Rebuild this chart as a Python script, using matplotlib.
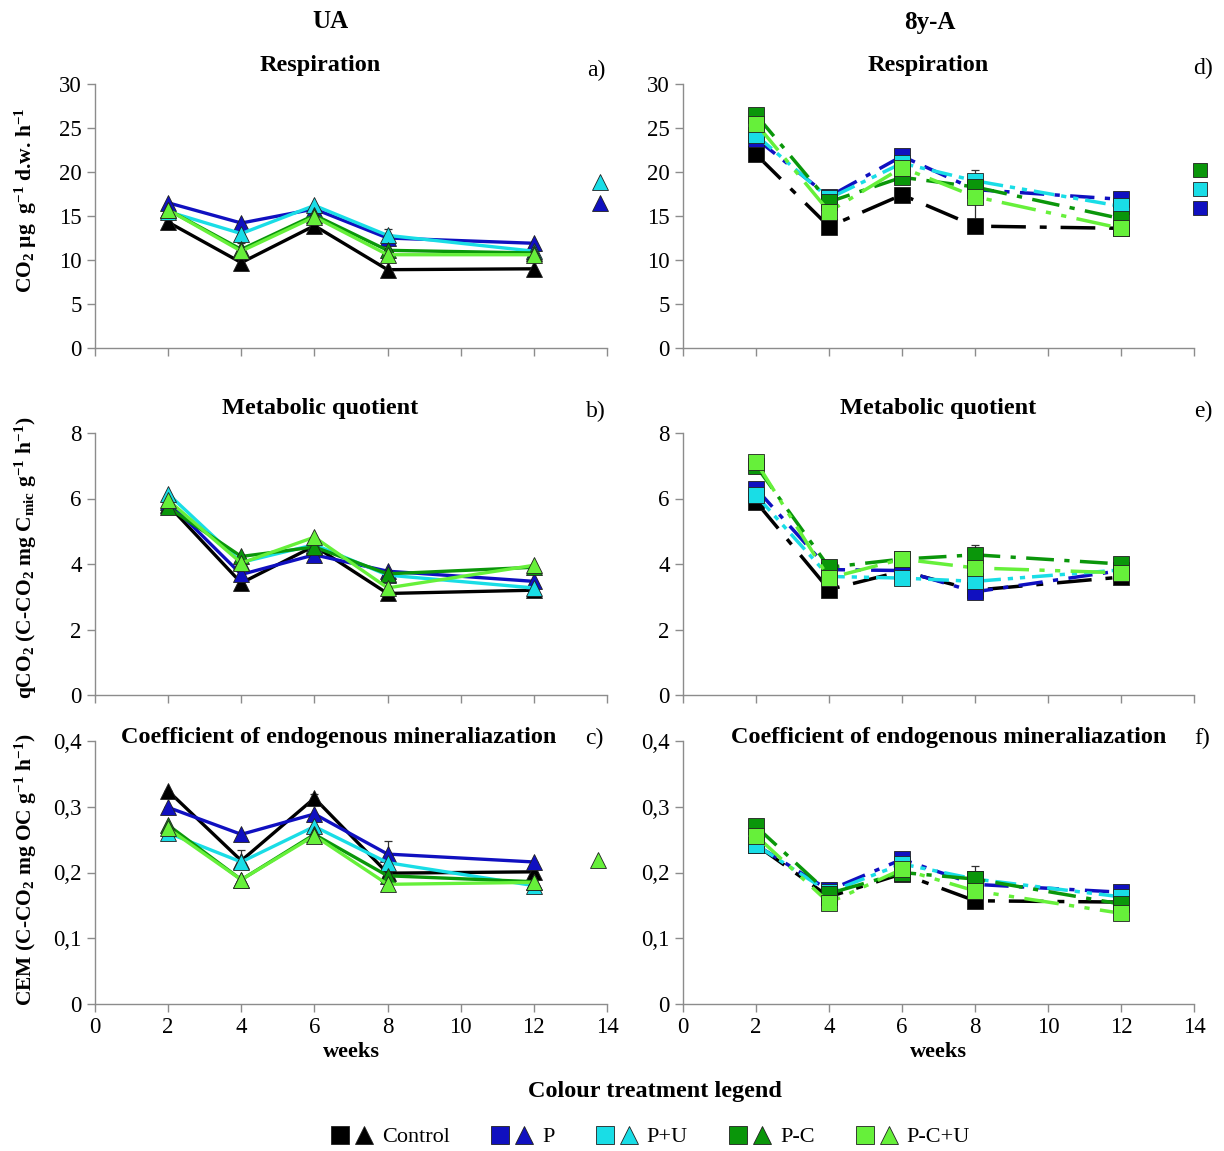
import numpy as np
import matplotlib
matplotlib.use("Agg")
import matplotlib.pyplot as plt
from matplotlib.ticker import FuncFormatter, MultipleLocator
from matplotlib.lines import Line2D
from matplotlib.legend_handler import HandlerTuple

plt.rcParams['font.family'] = ['Liberation Serif', 'DejaVu Serif']
plt.rcParams['mathtext.fontset'] = 'custom'
plt.rcParams['mathtext.rm'] = 'Liberation Serif:bold'
plt.rcParams['mathtext.default'] = 'rm'

# --- Sampling times ---
weeks = [2, 4, 6, 8, 12]
treatments = ['Control', 'P', 'P+U', 'P-C', 'P-C+U']
colours = ['#000000', '#1010c0', '#19dde6', '#0a960a', '#66f03a']

# --- UA soil (triangles) ---
resp_ua = {
    'Control': [14.3, 9.7, 13.9, 8.9, 9.0],
    'P': [16.5, 14.2, 15.8, 12.5, 11.9],
    'P+U': [15.5, 13.0, 16.2, 12.8, 11.0],
    'P-C': [15.7, 11.2, 15.1, 11.1, 10.8],
    'P-C+U': [15.7, 11.0, 14.9, 10.6, 10.6],
}
qco2_ua = {
    'Control': [5.8, 3.42, 4.55, 3.1, 3.2],
    'P': [5.9, 3.68, 4.28, 3.78, 3.47],
    'P+U': [6.14, 4.05, 4.59, 3.66, 3.27],
    'P-C': [5.73, 4.23, 4.52, 3.7, 3.9],
    'P-C+U': [5.95, 4.03, 4.82, 3.27, 3.96],
}
cem_ua = {
    'Control': [0.324, 0.218, 0.313, 0.199, 0.201],
    'P': [0.299, 0.258, 0.289, 0.228, 0.216],
    'P+U': [0.26, 0.216, 0.27, 0.215, 0.18],
    'P-C': [0.272, 0.189, 0.258, 0.195, 0.186],
    'P-C+U': [0.267, 0.189, 0.256, 0.182, 0.185],
}

# --- 8y-A soil (squares) ---
resp_8y = {
    'Control': [22.0, 13.8, 17.4, 13.85, 13.6],
    'P': [23.8, 17.2, 21.8, 18.0, 16.9],
    'P+U': [24.2, 17.0, 21.0, 19.0, 16.1],
    'P-C': [26.5, 16.6, 19.4, 18.3, 14.7],
    'P-C+U': [25.5, 15.5, 20.5, 17.2, 13.6],
}
qco2_8y = {
    'Control': [5.9, 3.22, 3.78, 3.2, 3.6],
    'P': [6.3, 3.83, 3.8, 3.15, 3.8],
    'P+U': [6.1, 3.62, 3.57, 3.47, 3.82],
    'P-C': [7.0, 3.9, 4.15, 4.28, 4.0],
    'P-C+U': [7.12, 3.57, 4.15, 3.88, 3.73],
}
cem_8y = {
    'Control': [0.242, 0.163, 0.198, 0.157, 0.155],
    'P': [0.242, 0.173, 0.22, 0.182, 0.17],
    'P+U': [0.242, 0.17, 0.213, 0.19, 0.163],
    'P-C': [0.27, 0.168, 0.2, 0.19, 0.152],
    'P-C+U': [0.256, 0.154, 0.205, 0.172, 0.138],
}

# standard errors that show above the markers
err_resp_ua = {'P+U': [0, 0, 0, 0.7, 0], 'P-C+U': [0, 0.9, 0, 0, 0]}
err_resp_8y = {'P+U': [0.9, 0.6, 0, 0, 0], 'P-C+U': [0, 0, 0, 3.0, 0]}
err_qco2_ua = {}
err_qco2_8y = {'P-C': [0, 0, 0, 0.3, 0]}
err_cem_ua = {'P': [0, 0, 0, 0.02, 0], 'P+U': [0, 0.018, 0, 0, 0], 'Control': [0, 0, 0.006, 0, 0]}
err_cem_8y = {'P+U': [0, 0, 0, 0.02, 0]}

dashes_8y = {
    'Control': (0, (10, 4, 2, 4)),
    'P': (0, (7, 3, 1.5, 3)),
    'P+U': (0, (6, 2, 1.5, 2, 1.5, 2)),
    'P-C': (0, (8, 3, 1.5, 3)),
    'P-C+U': (0, (10, 3, 1.5, 3, 1.5, 3)),
}

W, H = 1224, 1151
fig = plt.figure(figsize=(W / 100, H / 100), dpi=100)


def px_axes(x0, x1, ytop, ybot):
    return fig.add_axes([x0 / W, 1 - ybot / H, (x1 - x0) / W, (ybot - ytop) / H])


def ptext(x, y, s, **kw):
    fig.text(x / W, 1 - y / H, s, ha='center', va='center', **kw)


comma = FuncFormatter(lambda v, p: f'{v:g}'.replace('.', ','))


def draw_panel(ax, data, errs, ymax, ystep, ua, bottom):
    for name, col in zip(treatments, colours):
        y = data[name]
        if ua:
            ax.plot(weeks, y, '-', color=col, lw=2.4, marker='^', ms=11.5,
                    mec='#202020', mew=0.6, zorder=3)
        else:
            ax.plot(weeks, y, color=col, lw=2.5, ls=dashes_8y[name], marker='s',
                    ms=12, mec='#202020', mew=0.6, zorder=3)
        if name in errs:
            e = np.array(errs[name])
            ax.errorbar(weeks, y, yerr=[np.zeros_like(e), e] if ua else e,
                        fmt='none', ecolor='#303030', elinewidth=0.9,
                        capsize=3, capthick=0.9, zorder=2)
    ax.set_xlim(0, 14)
    ax.set_ylim(0, ymax)
    ax.xaxis.set_major_locator(MultipleLocator(2))
    ax.yaxis.set_major_locator(MultipleLocator(ystep))
    ax.yaxis.set_major_formatter(comma)
    for s in ('top', 'right'):
        ax.spines[s].set_visible(False)
    for s in ('left', 'bottom'):
        ax.spines[s].set_color('#8c8c8c')
        ax.spines[s].set_linewidth(1.0)
    ax.tick_params(colors='#8c8c8c', labelcolor='black', labelsize=16.5,
                   length=6, width=1.0, direction='out')
    if not bottom:
        ax.tick_params(axis='x', labelbottom=False)
    else:
        ax.set_xlabel('weeks', fontsize=16, fontweight='bold', labelpad=3)


cols = [(95, 607), (683, 1194)]
rows = [(84, 348), (433, 695), (741, 1004)]
panels = [
    [(resp_ua, err_resp_ua, 30, 5), (resp_8y, err_resp_8y, 30, 5)],
    [(qco2_ua, err_qco2_ua, 8, 2), (qco2_8y, err_qco2_8y, 8, 2)],
    [(cem_ua, err_cem_ua, 0.4, 0.1), (cem_8y, err_cem_8y, 0.4, 0.1)],
]
axes = []
for r, (yt, yb) in enumerate(rows):
    row_axes = []
    for c, (x0, x1) in enumerate(cols):
        ax = px_axes(x0, x1, yt, yb)
        data, errs, ymax, ystep = panels[r][c]
        draw_panel(ax, data, errs, ymax, ystep, ua=(c == 0), bottom=(r == 2))
        row_axes.append(ax)
    axes.append(row_axes)

# column headings, panel titles and letters
ptext(330, 22, 'UA', fontsize=18, fontweight='bold')
ptext(930, 22, '8y-A', fontsize=18, fontweight='bold')
titles = ['Respiration', 'Metabolic quotient', 'Coefficient of endogenous mineraliazation']
title_pos = [[(320, 66), (928, 66)], [(320, 409), (938, 409)], [(339, 737), (949, 737)]]
letters = [['a)', 'd)'], ['b)', 'e)'], ['c)', 'f)']]
letter_pos = [[(596, 70), (1203, 68)], [(596, 411), (1203, 411)], [(594, 738), (1202, 738)]]
for r in range(3):
    for c in range(2):
        ptext(*title_pos[r][c], titles[r], fontsize=17.5, fontweight='bold')
        ptext(*letter_pos[r][c], letters[r][c], fontsize=17)

# y axis labels
ylab_kw = dict(fontsize=15.5, fontweight='bold', rotation=90)
ptext(26, 200, r'CO$_2$ µg  g$^{-1}$ d.w. h$^{-1}$', **ylab_kw)
ptext(26, 558, r'qCO$_2$ (C-CO$_2$ mg C$_{mic}$ g$^{-1}$ h$^{-1}$)', **ylab_kw)
ptext(26, 870, r'CEM (C-CO$_2$ mg OC g$^{-1}$ h$^{-1}$)', **ylab_kw)


def mk(name, marker, size):
    col = colours[treatments.index(name)]
    return Line2D([], [], ls='none', marker=marker, ms=size, mfc=col, mec='#202020', mew=0.6)


# leftover legend keys beside some panels
axes[0][0].legend([mk('P+U', '^', 11), mk('P', '^', 11)], ['', ''], frameon=False,
                  loc='center', bbox_to_anchor=((600 - 95) / 512, 1 - (194 - 84) / 264),
                  handlelength=0.8, handletextpad=0, labelspacing=0.55, borderaxespad=0)
axes[2][0].legend([mk('P-C+U', '^', 11)], [''], frameon=False,
                  loc='center', bbox_to_anchor=((598 - 95) / 512, 1 - (861 - 741) / 263),
                  handlelength=0.8, handletextpad=0, borderaxespad=0)
axes[0][1].legend([mk('P-C', 's', 10), mk('P+U', 's', 10), mk('P', 's', 10)], ['', '', ''],
                  frameon=False, loc='center',
                  bbox_to_anchor=((1200 - 683) / 511, 1 - (190 - 85) / 261),
                  handlelength=0.8, handletextpad=0, labelspacing=0.45, borderaxespad=0)

# shared treatment legend
ptext(655, 1091, 'Colour treatment legend', fontsize=17.5, fontweight='bold')
handles = [(mk(n, 's', 12.5), mk(n, '^', 12.5)) for n in treatments]
fig.legend(handles, treatments, loc='center', bbox_to_anchor=(650 / W, 1 - 1137 / H),
           ncol=5, frameon=False, fontsize=16, columnspacing=1.8, handletextpad=0.35,
           handlelength=2.0, handler_map={tuple: HandlerTuple(ndivide=None, pad=0.15)})

fig.savefig('out.png', dpi=100)
